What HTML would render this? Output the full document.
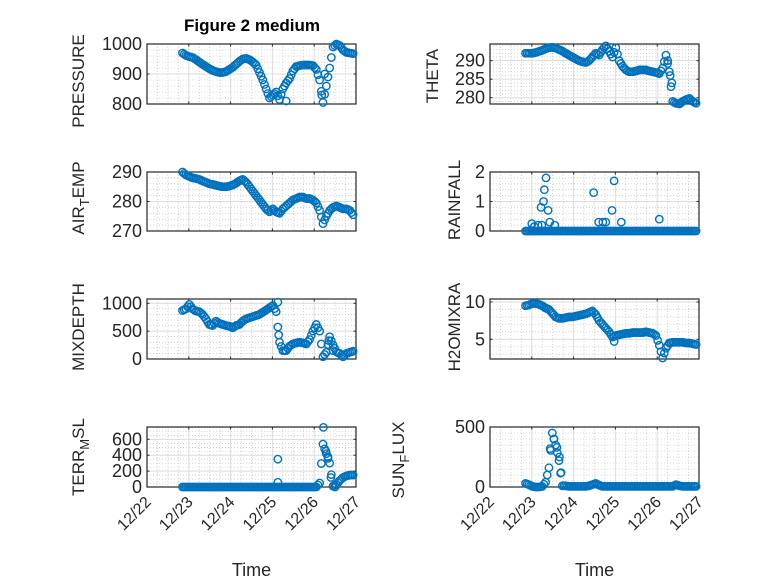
<!DOCTYPE html>
<html><head><meta charset="utf-8"><style>
body{margin:0;background:#fff;}
svg{display:block;font-family:"Liberation Sans",sans-serif;}
</style></head><body>
<svg id="fig" width="778" height="583" viewBox="0 0 778 583" xmlns="http://www.w3.org/2000/svg">
<rect width="778" height="583" fill="#fff"/>
<text x="252" y="31" text-anchor="middle" font-size="17" font-weight="bold" fill="#000">Figure 2 medium</text>
</svg>
<script>
// days since 12/22
const times = [0.85,0.93,1.01,1.09,1.17,1.25,1.33,1.41,1.49,1.57,1.65,1.73,1.81,1.89,1.97,2.05,2.13,2.21,2.29,2.37,2.45,2.53,2.61,2.69,2.77,2.85,2.93,3.01,3.09,3.17,3.25,3.33,3.41,3.49,3.57,3.65,3.73,3.81,3.89,3.97,4.05,4.13,4.21,4.29,4.37,4.45,4.53,4.61,4.69,4.77,4.85,4.93];
const xTickLabels = ["12/22","12/23","12/24","12/25","12/26","12/27"];

const pressure = [970,962,958,955,948,940,932,925,918,912,908,905,905,908,915,922,932,942,950,952,948,940,930,905,880,850,820,830,840,815,850,870,885,910,925,928,930,930,930,928,915,880,805,860,920,990,1000,995,980,972,970,968];
const pressureExtraT = [3.33,4.18,4.25];
const pressureExtraV = [810,830,900];

const airTemp = [290,289,288.5,288,287.8,287.5,287,286.5,286,285.8,285.5,285.2,285,285,285.2,285.6,286.2,287,287.5,286.5,285,283.5,282,280.5,279,277.5,276.5,277.5,276.5,276,277.5,278.5,279.5,280.5,281,281.5,281.5,281,281,280.5,279.5,277,272.5,275,277,278,278.5,278,277.5,277.5,277,275.5];
const airTempExtraT = [];
const airTempExtraV = [];

const theta = [292,292,292,292.2,292.5,292.8,293.2,293.5,293.6,293.4,293,292.6,292,291.5,291,290.5,290,289.7,289.5,290,291,292,291.5,293,294,292.5,291,293.5,290,288.5,287.5,287,287,287.2,287.5,287.5,287.5,287.2,287,286.8,286.5,288,291.5,287,279,278.5,278.3,279,279.5,279.8,279,278.5];
const thetaExtraT = [4.25,4.31,4.35];
const thetaExtraV = [290,286,284];

const rainfall = [0,0,0,0,0,0,0,0,0,0,0,0,0,0,0,0,0,0,0,0,0,0,0,0,0,0,0,0,0,0,0,0,0,0,0,0,0,0,0,0,0,0,0,0,0,0,0,0,0,0,0,0];
const rainfallExtraT = [1.0,1.06,1.15,1.22,1.24,1.28,1.3,1.34,1.39,1.43,1.55,2.48,2.6,2.7,2.77,2.92,2.97,3.14,4.05];
const rainfallExtraV = [0.25,0.15,0.2,0.8,0.2,1.0,1.4,1.8,0.7,0.3,0.2,1.3,0.3,0.3,0.3,0.7,1.7,0.3,0.4];

const mixDepth = [870,900,980,900,860,850,800,720,620,600,680,640,620,600,590,560,600,620,680,720,740,760,780,800,840,880,920,960,850,300,150,150,230,270,290,300,290,270,350,500,620,500,40,120,400,250,130,100,40,100,120,140];
const mixDepthExtraT = [3.13,3.15,4.35,4.45];
const mixDepthExtraV = [1020,430,330,150];

const h2oMix = [9.5,9.6,9.8,9.8,9.7,9.5,9.2,9.0,8.5,8.0,7.8,7.8,7.9,8.0,8.0,8.1,8.2,8.3,8.4,8.6,8.8,8.3,7.5,7.0,6.5,6.0,5.3,5.5,5.6,5.7,5.8,5.8,5.9,5.9,5.9,5.9,6.0,5.9,5.8,5.5,4.2,2.5,3.8,4.5,4.6,4.6,4.6,4.6,4.5,4.5,4.4,4.3];
const h2oMixExtraT = [2.97];
const h2oMixExtraV = [4.7];

const terrMsl = [0,0,0,0,0,0,0,0,0,0,0,0,0,0,0,0,0,0,0,0,0,0,0,0,0,0,0,0,0,0,0,0,0,0,0,0,0,0,0,0,0,50,540,420,300,10,30,80,120,140,150,150];
const terrMslExtraT = [3.13,3.13,4.22,4.28,4.33,4.40,4.5];
const terrMslExtraV = [350,60,750,450,380,120,0];

const sunFlux = [30,20,5,0,0,5,40,160,450,350,220,10,10,5,5,5,5,5,5,10,20,30,15,5,5,5,5,5,5,5,5,5,5,5,5,5,5,5,5,5,5,5,5,5,5,20,10,5,5,5,5,5];
const sunFluxExtraT = [1.44,1.53,1.6,1.66,1.7];
const sunFluxExtraV = [320,400,330,250,120];

const NS = "http://www.w3.org/2000/svg";
const svg = document.getElementById('fig');
function mk(tag, attrs, parent){const e=document.createElementNS(NS,tag);for(const k in attrs)e.setAttribute(k,attrs[k]);(parent||svg).appendChild(e);return e;}

const panels = [
 {name:'pressure',label:'PRESSURE',x0:147,x1:356,y0:44,y1:104,ymin:800,ymax:1000,ticks:[800,900,1000],minor:20,data:pressure,et:pressureExtraT,ev:pressureExtraV,lx:84,ly:81,xt:false},
 {name:'theta',label:'THETA',x0:490,x1:699,y0:44,y1:104,ymin:278.3,ymax:294.5,ticks:[280,285,290],minor:1,data:theta,et:thetaExtraT,ev:thetaExtraV,lx:438,ly:76,xt:false},
 {name:'air-temp',label:'AIR_TEMP',x0:147,x1:356,y0:172,y1:231,ymin:270,ymax:290,ticks:[270,280,290],minor:2,data:airTemp,et:airTempExtraT,ev:airTempExtraV,lx:84,ly:198,xt:false},
 {name:'rainfall',label:'RAINFALL',x0:490,x1:699,y0:172,y1:231,ymin:0,ymax:2,ticks:[0,1,2],minor:0.2,data:rainfall,et:rainfallExtraT,ev:rainfallExtraV,lx:460,ly:200,xt:false},
 {name:'mixdepth',label:'MIXDEPTH',x0:147,x1:356,y0:299,y1:359,ymin:0,ymax:1077,ticks:[0,500,1000],minor:100,data:mixDepth,et:mixDepthExtraT,ev:mixDepthExtraV,lx:84,ly:327,xt:false},
 {name:'h2omixra',label:'H2OMIXRA',x0:490,x1:699,y0:299,y1:359,ymin:2.36,ymax:10.4,ticks:[5,10],minor:1,data:h2oMix,et:h2oMixExtraT,ev:h2oMixExtraV,lx:460,ly:327,xt:false},
 {name:'terr-msl',label:'TERR_MSL',x0:147,x1:356,y0:427,y1:487,ymin:0,ymax:755,ticks:[0,200,400,600],minor:50,data:terrMsl,et:terrMslExtraT,ev:terrMslExtraV,lx:84,ly:457,xt:true},
 {name:'sun-flux',label:'SUN_FLUX',x0:490,x1:699,y0:427,y1:487,ymin:0,ymax:500,ticks:[0,500],minor:50,data:sunFlux,et:sunFluxExtraT,ev:sunFluxExtraV,lx:404,ly:460,xt:true}
];

panels.forEach(p=>{
  const g = mk('g',{});
  
  
  const xs = t=>p.x0+(t-0)/(5-0)*(p.x1-p.x0);
  const ys = v=>p.y1-(v-p.ymin)/(p.ymax-p.ymin)*(p.y1-p.y0);
  for(let d=0; d<=5; d+=0.25){ if(Math.abs(d-Math.round(d))<1e-6) continue;
    mk('line',{x1:xs(d),x2:xs(d),y1:p.y0,y2:p.y1,stroke:'#b8b8b8','stroke-width':0.6,'stroke-dasharray':'1,2'},g);}
  for(let v=Math.ceil(p.ymin/p.minor)*p.minor; v<=p.ymax; v+=p.minor){
    mk('line',{x1:p.x0,x2:p.x1,y1:ys(v),y2:ys(v),stroke:'#b8b8b8','stroke-width':0.6,'stroke-dasharray':'1,2'},g);}
  xTickLabels.forEach((l,i)=>{mk('line',{x1:xs(i),x2:xs(i),y1:p.y0,y2:p.y1,stroke:'#dcdcdc','stroke-width':1},g);});
  p.ticks.forEach(v=>{mk('line',{x1:p.x0,x2:p.x1,y1:ys(v),y2:ys(v),stroke:'#dcdcdc','stroke-width':1},g);});
  mk('rect',{x:p.x0,y:p.y0,width:p.x1-p.x0,height:p.y1-p.y0,fill:'none',stroke:'#262626','stroke-width':1.2},g);
  xTickLabels.forEach((l,i)=>{const x=xs(i);
    mk('line',{x1:x,x2:x,y1:p.y1,y2:p.y1-2.5,stroke:'#262626'},g);
    mk('line',{x1:x,x2:x,y1:p.y0,y2:p.y0+2.5,stroke:'#262626'},g);
    if(p.xt){const t=mk('text',{x:x+5,y:p.y1+16,'text-anchor':'end','font-size':16,fill:'#262626',transform:`rotate(-45 ${x+5} ${p.y1+16})`},g);t.textContent=l;
      
      }
  });
  p.ticks.forEach(v=>{const y=ys(v);
    mk('line',{x1:p.x0,x2:p.x0+2.5,y1:y,y2:y,stroke:'#262626'},g);
    mk('line',{x1:p.x1,x2:p.x1-2.5,y1:y,y2:y,stroke:'#262626'},g);
    const t=mk('text',{x:p.x0-5,y:y+6,'text-anchor':'end','font-size':18,fill:'#262626'},g);t.textContent=v;
    
    
  });
  const cy=p.ly;
  const lab=mk('text',{x:p.lx,y:cy,'text-anchor':'middle','font-size':17,fill:'#262626',transform:`rotate(-90 ${p.lx} ${cy})`},g);
  
  
  const parts=p.label.split('_');
  if(parts.length===2){
    const a=mk('tspan',{},lab);a.textContent=parts[0];
    const b=mk('tspan',{dy:5,'font-size':13},lab);b.textContent=parts[1][0];
    const c=mk('tspan',{dy:-5},lab);c.textContent=parts[1].slice(1);
  } else lab.textContent=p.label;
  const mg=mk('g',{fill:'none',stroke:'#0072BD','stroke-width':1.4},g);
  
  
  const dot=(t,v)=>{const c=mk('circle',{cx:xs(t),cy:ys(v),r:3.7},mg);
    
    };
  times.forEach((t,i)=>{dot(t,p.data[i]); if(i<times.length-1){dot((t+times[i+1])/2,(p.data[i]+p.data[i+1])/2);}});
  p.et.forEach((t,i)=>dot(t,p.ev[i]));
  if(p.xt){const tl=mk('text',{x:(p.x0+p.x1)/2,y:576,'text-anchor':'middle','font-size':18,fill:'#262626'},g);tl.textContent='Time';
    
    }
});
</script>
</body></html>
